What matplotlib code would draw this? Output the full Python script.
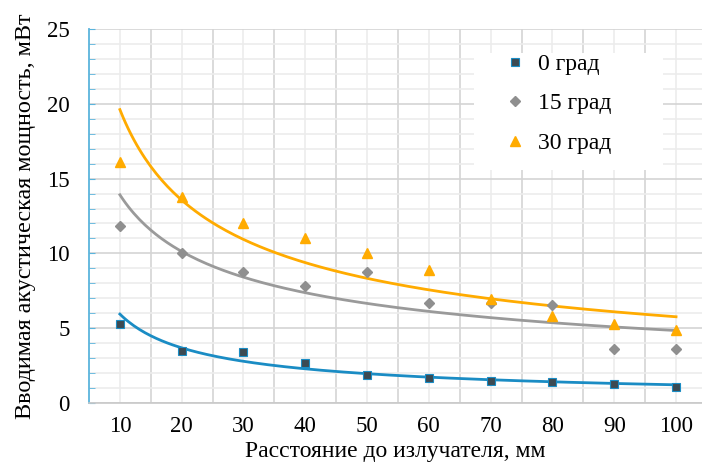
import numpy as np
import matplotlib.pyplot as plt
from matplotlib.patches import Rectangle
from matplotlib.ticker import MultipleLocator, FixedLocator

plt.rcParams['font.family'] = ['Liberation Serif', 'DejaVu Serif']

# data
distance = np.array([10, 20, 30, 40, 50, 60, 70, 80, 90, 100])
power_0 = np.array([5.3, 3.5, 3.4, 2.7, 1.9, 1.7, 1.5, 1.4, 1.3, 1.1])
power_15 = np.array([11.8, 10.0, 8.75, 7.8, 8.75, 6.7, 6.7, 6.55, 3.6, 3.6])
power_30 = np.array([16.1, 13.8, 12.0, 11.0, 10.0, 8.9, 6.95, 5.8, 5.3, 4.9])
labels = ['0 град', '15 град', '30 град']

blue = '#1a8cc4'
gray = '#9a9a9a'
orange = '#ffab00'


# power trend line, like excel does it
def power_trend(x, y):
    k, b = np.polyfit(np.log(x), np.log(y), 1)
    xs = np.linspace(x.min(), x.max(), 200)
    return xs, np.exp(b) * xs ** k


fig = plt.figure(figsize=(7.02, 4.63), dpi=100)
ax = fig.add_axes([89/702, 60/463, 613/702, 374/463])
ax.set_axisbelow(True)

for y, col in [(power_0, blue), (power_15, gray), (power_30, orange)]:
    xs, ys = power_trend(distance, y)
    ax.plot(xs, ys, color=col, lw=2.0, zorder=2)

ax.plot(distance, power_0, 's', ms=6, color='#3c4a52', mec=blue, mew=0.8, zorder=3, label=labels[0])
ax.plot(distance, power_15, 'D', ms=5.5, color='#8f8f8f', mec='#8f8f8f', zorder=3, label=labels[1])
ax.plot(distance, power_30, '^', ms=7, color=orange, mec=orange, zorder=3, label=labels[2])

ax.set_xlim(5, 104.2)
ax.set_ylim(0, 25)

ax.xaxis.set_major_locator(FixedLocator(distance))
ax.xaxis.set_minor_locator(FixedLocator(np.arange(15, 100, 10)))
ax.yaxis.set_major_locator(MultipleLocator(5))
ax.yaxis.set_minor_locator(MultipleLocator(1))

ax.grid(which='major', axis='x', color='#ececec', lw=1.2)
ax.grid(which='minor', axis='x', color='#d4d4d4', lw=1.2)
ax.grid(which='major', axis='y', color='#d4d4d4', lw=1.2)
ax.grid(which='minor', axis='y', color='#ececec', lw=1.2)

ax.tick_params(axis='x', which='both', length=0, labelsize=16.5, pad=9)
ax.tick_params(axis='y', which='both', direction='in', length=4, color='#5ab4dc', labelsize=16.5, pad=14)

for s in ['top', 'right']:
    ax.spines[s].set_visible(False)
ax.spines['left'].set_color('#5ab4dc')
ax.spines['left'].set_linewidth(1.3)
ax.spines['bottom'].set_color('#c8c8c8')
ax.spines['bottom'].set_linewidth(1.2)

ax.set_xlabel('Расстояние до излучателя, мм', fontsize=17, labelpad=3)
ax.set_ylabel('Вводимая акустическая мощность, мВт', fontsize=17.4, labelpad=8)

# white box behind the legend
ax.add_patch(Rectangle((0.628, 0.623), 0.308, 0.313, transform=ax.transAxes,
                       facecolor='white', edgecolor='none', zorder=1))
ax.legend(loc='upper left', bbox_to_anchor=(0.66, 0.96), frameon=False,
          fontsize=17, handlelength=1.0, handletextpad=0.5, labelspacing=0.76,
          borderaxespad=0)

fig.savefig('out.png', dpi=100)
